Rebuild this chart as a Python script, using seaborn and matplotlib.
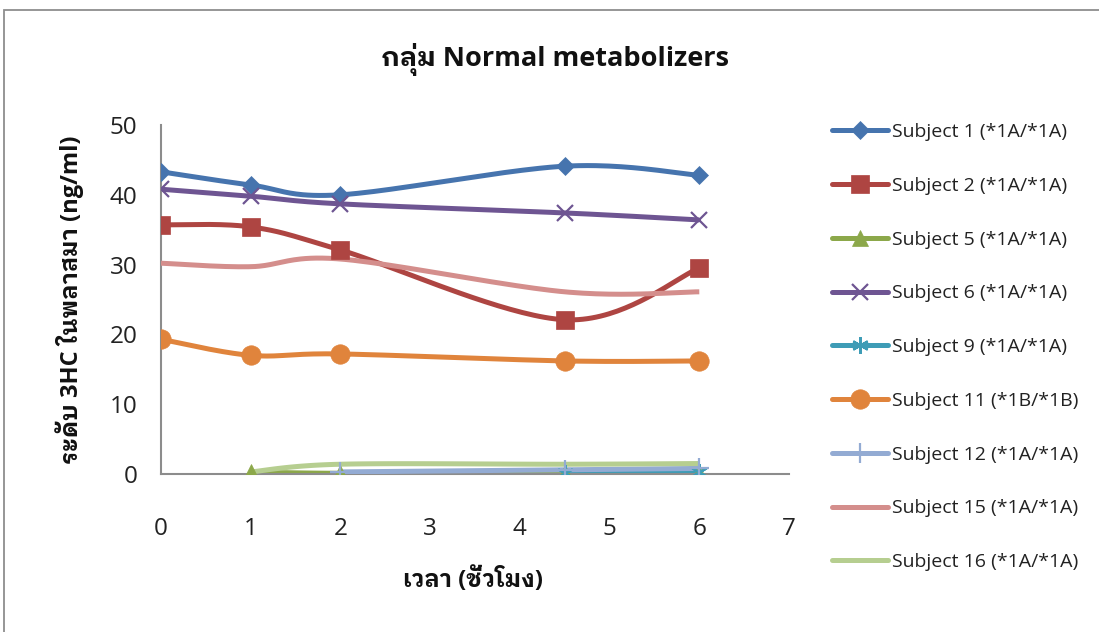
import matplotlib
matplotlib.use("Agg")
import numpy as np
import pandas as pd
import matplotlib.pyplot as plt
from matplotlib.lines import Line2D
from matplotlib.patches import Rectangle
import seaborn as sns

# Sampling times (hours)
times = [0, 1, 2, 4.5, 6]

# Plasma 3HC levels (ng/ml) per subject; NaN = not measured / not detected
subject_1 = [43.3, 41.4, 40.0, 44.1, 42.8]
subject_2 = [35.7, 35.4, 32.1, 22.1, 29.5]
subject_5 = [np.nan, 0.3, 0.1, 0.1, 0.1]
subject_6 = [40.8, 39.8, 38.7, 37.4, 36.4]
subject_9 = [np.nan, np.nan, np.nan, 0.2, 0.3]
subject_11 = [19.3, 17.0, 17.2, 16.2, 16.2]
subject_12 = [np.nan, np.nan, 0.3, 0.6, 0.8]
subject_15 = [30.2, 29.7, 30.8, 26.1, 26.1]
subject_16 = [np.nan, 0.3, 1.4, 1.4, 1.5]

labels = ["Subject 1 (*1A/*1A)", "Subject 2 (*1A/*1A)", "Subject 5 (*1A/*1A)",
          "Subject 6 (*1A/*1A)", "Subject 9 (*1A/*1A)", "Subject 11 (*1B/*1B)",
          "Subject 12 (*1A/*1A)", "Subject 15 (*1A/*1A)", "Subject 16 (*1A/*1A)"]
series = [subject_1, subject_2, subject_5, subject_6, subject_9,
          subject_11, subject_12, subject_15, subject_16]

x_ticks = [0, 1, 2, 3, 4, 5, 6, 7]
y_ticks = [0, 10, 20, 30, 40, 50]

title = "กลุ่ม Normal metabolizers"
x_label = "เวลา (ชั่วโมง)"
y_label = "ระดับ 3HC ในพลาสมา (ng/ml)"

colors = ["#4674AE", "#AE4542", "#8CA84A", "#6E5592", "#3E9CB6",
          "#E0843C", "#93ABD3", "#D48E8C", "#B6CE90"]
markers = ["D", "s", "^", "x", (6, 2, 0), "o", "+", None, None]
msizes = [9.5, 13, 12, 12, 12, 14, 15, 0, 0]

sns.set_theme(style="white")
plt.rcParams["font.family"] = ["Open Sans", "IBM Plex Sans Thai Looped",
                               "IBM Plex Sans Thai", "Sarabun"]

fig = plt.figure(figsize=(10.99, 6.32), dpi=100)
ax = fig.add_axes([161 / 1099, 1 - 474 / 632, (789 - 161) / 1099, (474 - 125) / 632])

# outer chart frame
fig.patches.append(Rectangle((4 / 1099, -0.2), 1.2, 1 - 10 / 632 + 0.2,
                             transform=fig.transFigure, fill=False,
                             edgecolor="#8E8E8E", linewidth=1.3))


def smooth(xs, ys, n=40):
    """Cardinal (Catmull-Rom style) Bezier smoothing through the points."""
    pts = np.array([(a, b) for a, b in zip(xs, ys) if not np.isnan(b)], float)
    if len(pts) < 2:
        return pts[:, 0], pts[:, 1]
    out = [pts[:1]]
    t = np.linspace(0, 1, n)[1:, None]
    for i in range(len(pts) - 1):
        p0 = pts[max(i - 1, 0)]
        p1 = pts[i]
        p2 = pts[i + 1]
        p3 = pts[min(i + 2, len(pts) - 1)]
        c1 = p1 + (p2 - p0) / 6
        c2 = p2 - (p3 - p1) / 6
        seg = ((1 - t) ** 3) * p1 + 3 * ((1 - t) ** 2) * t * c1 + 3 * (1 - t) * t ** 2 * c2 + t ** 3 * p2
        out.append(seg)
    arr = np.vstack(out)
    return arr[:, 0], arr[:, 1]


def edge_width(m):
    return 1.6 if m in ("x", "+") or isinstance(m, tuple) else 0.5


draw_order = [7, 8, 4, 6, 2, 5, 1, 3, 0]
for i in draw_order:
    ys = series[i]
    sx, sy = smooth(times, ys)
    curve = pd.DataFrame({"t": sx, "v": sy})
    sns.lineplot(data=curve, x="t", y="v", ax=ax, color=colors[i], linewidth=3.6,
                 sort=False, estimator=None, solid_capstyle="butt", zorder=2 + i * 0.1)
    if markers[i] is not None:
        pts = pd.DataFrame({"t": times, "v": ys}).dropna()
        ax.plot(pts["t"], pts["v"], linestyle="none", marker=markers[i],
                markersize=msizes[i], color=colors[i], markeredgecolor=colors[i],
                markeredgewidth=edge_width(markers[i]), zorder=3 + i * 0.1)

handles = []
for i in range(len(series)):
    m = markers[i]
    handles.append(Line2D([], [], color=colors[i], linewidth=3.6,
                          marker=m, markersize=msizes[i] if m is not None else 0,
                          markeredgecolor=colors[i], markeredgewidth=edge_width(m),
                          solid_capstyle="round"))

ax.set_xlim(0, 7)
ax.set_ylim(0, 50)
ax.set_xticks(x_ticks)
ax.set_yticks(y_ticks)
ax.tick_params(axis="both", length=0, labelsize=17.5, colors="#222222")
ax.tick_params(axis="y", pad=17)
ax.tick_params(axis="x", pad=31)
for s in ["top", "right"]:
    ax.spines[s].set_visible(False)
for s in ["left", "bottom"]:
    ax.spines[s].set_color("#8C8C8C")
    ax.spines[s].set_linewidth(1.5)
ax.grid(False)
ax.set_xlabel("")
ax.set_ylabel("")
ax.patch.set_alpha(0)

fig.text(555 / 1099, 1 - 60 / 632, title, ha="center", va="center",
         fontsize=19.5, fontweight="bold", color="#111111")
fig.text(473 / 1099, 1 - 580 / 632, x_label, ha="center", va="center",
         fontsize=17, fontweight="bold", color="#111111")
fig.text(70 / 1099, 1 - 300 / 632, y_label, ha="center", va="center", rotation=90,
         fontsize=17, fontweight="bold", color="#111111")

fig.legend(handles, labels, loc="upper left", bbox_to_anchor=(832 / 1099, 1 - 123 / 632),
           frameon=False, fontsize=14, handlelength=2.9, handletextpad=0.2,
           labelspacing=1.84, borderpad=0, borderaxespad=0, numpoints=1,
           labelcolor="#222222")

fig.savefig("out.png", dpi=100)
